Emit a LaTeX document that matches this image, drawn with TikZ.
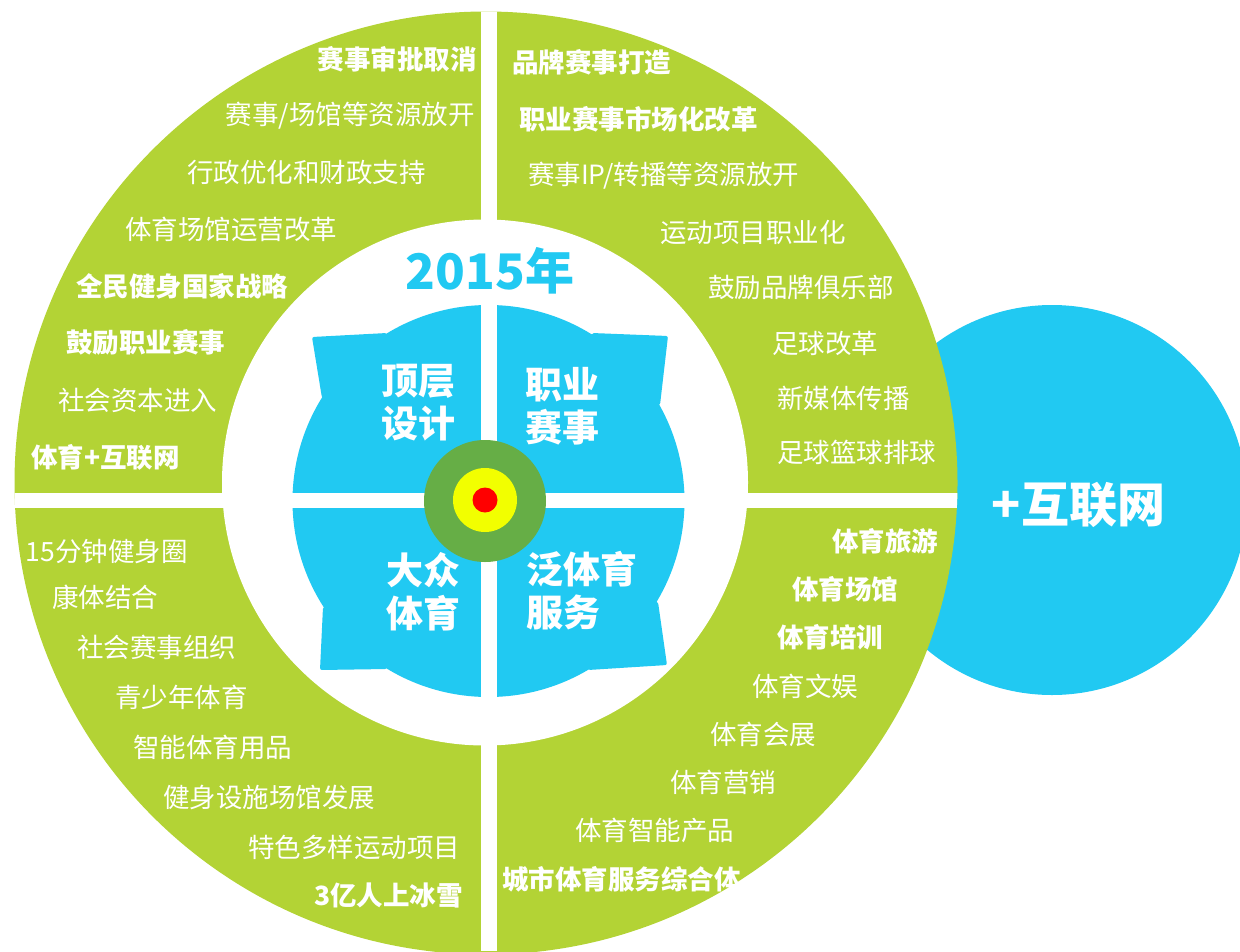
\documentclass[tikz,border=0pt]{standalone}
\usepackage{fontspec}
\setmainfont{Noto Sans CJK SC}
\definecolor{lgreen}{HTML}{B3D335}
\definecolor{sblue}{HTML}{21C9F2}
\definecolor{dgreen}{HTML}{66AE46}
\definecolor{tyellow}{HTML}{F2FF00}
\definecolor{tred}{HTML}{FF0000}
\tikzset{
  lbl/.style={inner sep=0pt, text=white, font=\fontsize{26.5}{30}\selectfont},
  blbl/.style={inner sep=0pt, text=white, font=\fontsize{26.5}{30}\selectfont\bfseries},
  quad/.style={inner sep=0pt, text=white, font=\fontsize{37}{43.5}\selectfont\bfseries},
  ear/.style={fill=sblue, rounded corners=2pt},
}
\begin{document}
\begin{tikzpicture}[x=1pt,y=-1pt]
\useasboundingbox (0,0) rectangle (1240,951);
% right blue circle
\fill[sblue] (1052,500) circle (195pt);
% big green circle
\fill[lgreen] (486,483) circle (471.5pt);
% inner white circle
\fill[white] (485,482.5) circle (263pt);
% inner blue disk with ears
\fill[sblue] (488.5,501) circle (196pt);
\fill[ear] (488.5,501) -- (387,333) -- (312,337) -- (322,398) -- cycle;
\fill[ear] (488.5,501) -- (592,333) -- (668,336) -- (660,405) -- cycle;
\fill[ear] (488.5,501) -- (323,607) -- (320,670) -- (387,669) -- cycle;
\fill[ear] (488.5,501) -- (658,602) -- (667,665) -- (588,670) -- cycle;
% white cross
\begin{scope}
\clip (486,483) circle (471.5pt);
\fill[white] (481,0) rectangle (497,951);
\fill[white] (0,492.5) rectangle (1240,508);
\end{scope}
% target
\fill[dgreen] (485,501) circle (61pt);
\fill[tyellow] (485,500) circle (32pt);
\fill[tred] (485,500) circle (12.5pt);
% centre labels
\node[inner sep=0pt, text=sblue, font=\fontsize{49}{55}\selectfont\bfseries] (year) at (490,271) {2015年};
\node[quad, align=right] (q1) at (418.5,402.5) {顶层\\设计};
\node[quad, align=left] (q2) at (562,406) {职业\\赛事};
\node[quad, align=right] (q3) at (423.5,591.5) {大众\\体育};
\node[quad, align=left] (q4) at (581.5,590.5) {泛体育\\服务};
\node[inner sep=0pt, text=white, font=\fontsize{48}{52}\selectfont\bfseries] (net) at (1078.5,504.5) {+互联网};
% top-left
\node[blbl, anchor=east] (t1) at (477,59) {赛事审批取消};
\node[lbl, anchor=east] (t2) at (475,116) {赛事/场馆等资源放开};
\node[lbl, anchor=west] (t3) at (187,172.5) {行政优化和财政支持};
\node[lbl, anchor=west] (t4) at (125,229) {体育场馆运营改革};
\node[blbl, anchor=west] (t5) at (76,286) {全民健身国家战略};
\node[blbl, anchor=west] (t6) at (66,342.5) {鼓励职业赛事};
\node[lbl, anchor=west] (t7) at (58,400) {社会资本进入};
\node[blbl, anchor=west] (t8) at (31,457.5) {体育+互联网};
% top-right
\node[blbl, anchor=west] (r1) at (512,62.5) {品牌赛事打造};
\node[blbl, anchor=west] (r2) at (519,119) {职业赛事市场化改革};
\node[lbl, anchor=west] (r3) at (528,176) {赛事IP/转播等资源放开};
\node[lbl, anchor=west] (r4) at (660,232) {运动项目职业化};
\node[lbl, anchor=west] (r5) at (708,287.5) {鼓励品牌俱乐部};
\node[lbl, anchor=west] (r6) at (772,343) {足球改革};
\node[lbl, anchor=west] (r7) at (777,398) {新媒体传播};
\node[lbl, anchor=west] (r8) at (777,452.5) {足球篮球排球};
% bottom-left
\node[lbl, anchor=east] (b1) at (188,551) {15分钟健身圈};
\node[lbl, anchor=west] (b2) at (52,597.5) {康体结合};
\node[lbl, anchor=west] (b3) at (77,647.5) {社会赛事组织};
\node[lbl, anchor=west] (b4) at (115,697.5) {青少年体育};
\node[lbl, anchor=west] (b5) at (133,747.5) {智能体育用品};
\node[lbl, anchor=west] (b6) at (163,797.5) {健身设施场馆发展};
\node[lbl, anchor=west] (b7) at (248,847.5) {特色多样运动项目};
\node[blbl, anchor=east] (b8) at (463,895.5) {3亿人上冰雪};
% bottom-right
\node[blbl, anchor=west] (s1) at (832,541) {体育旅游};
\node[blbl, anchor=west] (s2) at (792,589) {体育场馆};
\node[blbl, anchor=west] (s3) at (777,637.5) {体育培训};
\node[lbl, anchor=west] (s4) at (752,686) {体育文娱};
\node[lbl, anchor=west] (s5) at (710,734) {体育会展};
\node[lbl, anchor=west] (s6) at (670,782.5) {体育营销};
\node[lbl, anchor=west] (s7) at (575,830) {体育智能产品};
\node[blbl, anchor=west] (s8) at (502,879) {城市体育服务综合体};
\end{tikzpicture}
\end{document}
